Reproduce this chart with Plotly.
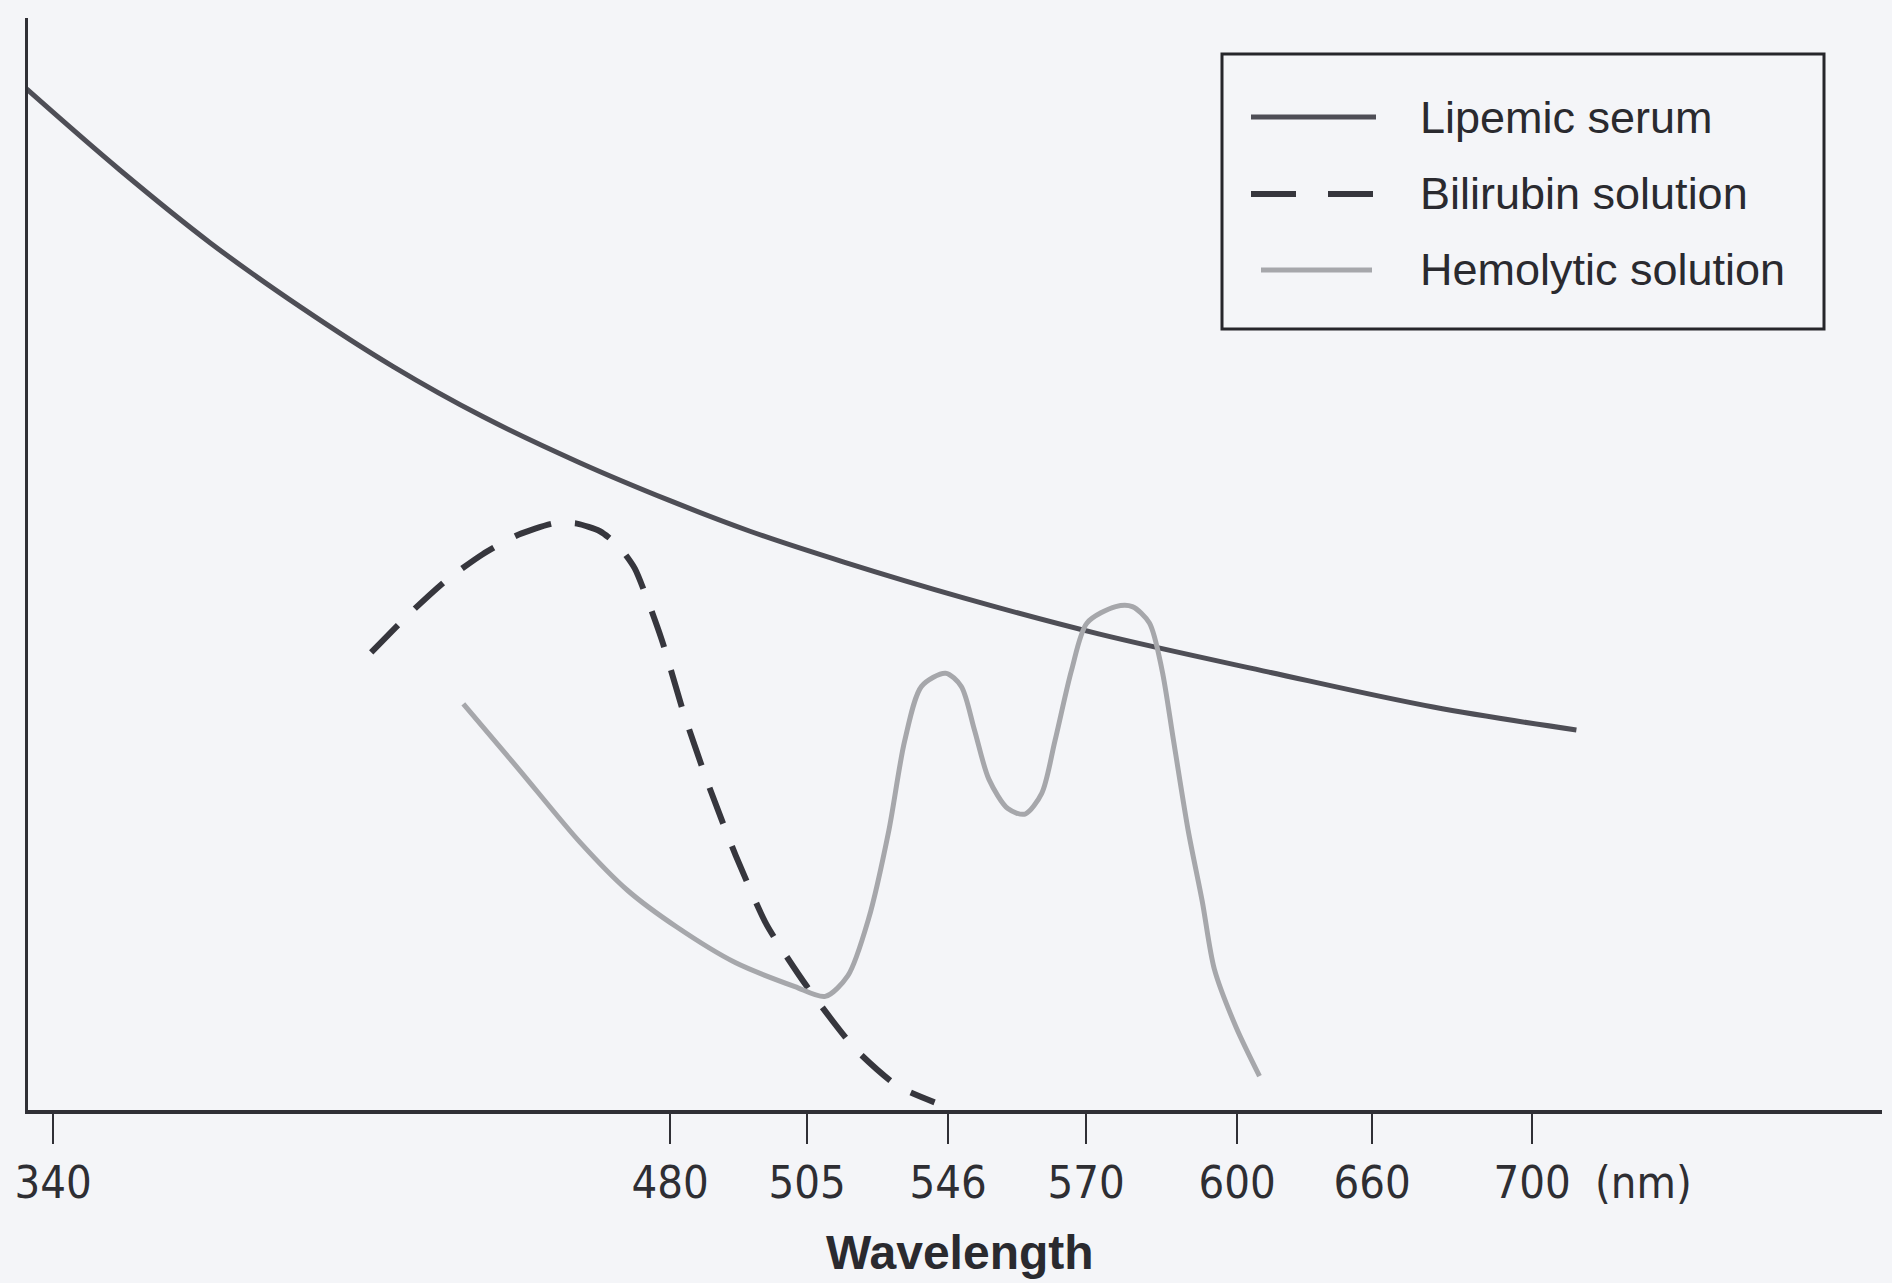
import numpy as np
import plotly.graph_objects as go

W, H = 1892, 1283
ML, MR, MT, MB = 28, 10, 18, 173          # plot-area margins (px)
X0, X1 = ML, W - MR                        # x-axis range in axis units (px along schematic axis)

# ---- schematic (non-linear) wavelength axis: labelled wavelengths and where they sit ----
TICK_WL = [340, 480, 505, 546, 570, 600, 660, 700]
TICK_LABELS = ["340", "480", "505", "546", "570", "600", "660", "700"]
TICK_POS = [53, 670, 807, 948, 1086, 1237, 1372, 1532]

SERIES_NAMES = ["Lipemic serum", "Bilirubin solution", "Hemolytic solution"]

# ---- data (wavelength nm, relative absorbance 0-100) ----
LIPEMIC_WL = [334.0, 355.1, 375.7, 396.3, 417.1, 437.5, 459.4, 480.0, 494.6, 515.5, 548.7,
              572.5, 614.2, 675.3, 711.1]
LIPEMIC_ABS = [93.5, 86.1, 79.4, 73.5, 68.1, 63.5, 59.3, 55.8, 53.0, 50.2, 46.9,
               43.6, 40.1, 36.9, 34.8]

BILI_WL = [412.2, 421.0, 429.2, 437.5, 445.7, 453.4, 458.9, 464.1, 468.2, 472.0, 478.1, 482.4,
           487.0, 492.0, 497.6, 505.0, 519.0, 531.3, 542.1]
BILI_ABS = [41.9, 45.5, 48.5, 50.9, 52.7, 53.7, 53.7, 53.0, 51.7, 49.6, 43.1, 36.5,
            29.8, 23.3, 17.0, 11.3, 5.6, 2.2, 0.7]

HEMO_WL = [433.1, 445.7, 459.4, 470.4, 481.1, 491.9, 502.8, 510.3, 516.9, 522.9, 528.8, 533.4,
           538.3, 545.3, 548.3, 550.6, 553.1, 556.4, 559.4, 562.3, 564.6, 567.5, 570.2, 575.9,
           579.2, 582.6, 585.1, 587.4, 590.3, 593.1, 595.5, 599.8, 610.0]
HEMO_ABS = [37.2, 31.2, 24.6, 20.1, 16.8, 13.5, 11.3, 10.4, 12.3, 17.5, 25.6, 33.8,
            38.8, 40.0, 38.8, 34.8, 30.3, 27.6, 27.1, 29.0, 33.8, 40.3, 44.6, 46.1,
            46.1, 44.6, 40.3, 33.8, 25.6, 19.1, 12.9, 7.6, 3.1]


def wl_to_x(wl):
    """Piecewise-linear schematic axis scale with linear extrapolation at both ends."""
    wl = np.asarray(wl, dtype=float)
    tw = np.asarray(TICK_WL, dtype=float)
    tp = np.asarray(TICK_POS, dtype=float)
    x = np.interp(wl, tw, tp)
    lo = wl < tw[0]
    hi = wl > tw[-1]
    x[lo] = tp[0] + (wl[lo] - tw[0]) * (tp[1] - tp[0]) / (tw[1] - tw[0])
    x[hi] = tp[-1] + (wl[hi] - tw[-1]) * (tp[-1] - tp[-2]) / (tw[-1] - tw[-2])
    return x


BG = "#f4f5f8"
C_LIP = "#4e4e56"
C_BIL = "#36363d"
C_HEM = "#a6a7ab"
STYLES = [
    dict(color=C_LIP, width=5, dash="solid", shape="spline", smoothing=1.0),
    dict(color=C_BIL, width=6, dash="38px,24px", shape="spline", smoothing=0.6),
    dict(color=C_HEM, width=5, dash="solid", shape="spline", smoothing=0.8),
]
DATA = [(LIPEMIC_WL, LIPEMIC_ABS), (BILI_WL, BILI_ABS), (HEMO_WL, HEMO_ABS)]

fig = go.Figure()
for name, (wl, ab), st in zip(SERIES_NAMES, DATA, STYLES):
    fig.add_trace(go.Scatter(x=wl_to_x(wl), y=ab, mode="lines", name=name,
                             line=st, showlegend=False, hoverinfo="skip"))

PW = W - ML - MR
PH = H - MT - MB


def px(xp):
    return (xp - ML) / PW


def py(yp):
    return (H - MB - yp) / PH


TICK_FONT = dict(family="Liberation Sans Narrow, DejaVu Sans Condensed, Arial Narrow, sans-serif",
                 size=45, color="#2e2e33")

shapes = []
annotations = []

# manual legend (box + samples + labels)
LEG_X0, LEG_X1, LEG_Y0, LEG_Y1 = 1222, 1824, 54, 329
shapes.append(dict(type="rect", xref="paper", yref="paper",
                   x0=px(LEG_X0), x1=px(LEG_X1), y0=py(LEG_Y1), y1=py(LEG_Y0),
                   line=dict(color="#26262b", width=3), fillcolor="rgba(0,0,0,0)", layer="above"))
ROW_Y = [117, 194, 270]
SAMPLE_X = [(1251, 1376), (1251, 1376), (1261, 1372)]
for name, st, ry, (sx0, sx1) in zip(SERIES_NAMES, STYLES, ROW_Y, SAMPLE_X):
    shapes.append(dict(type="line", xref="paper", yref="paper",
                       x0=px(sx0), x1=px(sx1), y0=py(ry), y1=py(ry),
                       line=dict(color=st["color"], width=st["width"],
                                 dash="45px,32px" if "px" in st["dash"] else "solid")))
    annotations.append(dict(text=name, xref="paper", yref="paper", x=px(1418), y=py(ry),
                            xanchor="left", yanchor="middle", showarrow=False,
                            font=dict(family="Liberation Sans, Arial, sans-serif", size=45, color="#2a2a2f")))

# units and axis title
annotations.append(dict(text="(nm)", xref="paper", yref="paper", x=px(1643), y=py(1182),
                        xanchor="center", yanchor="middle", showarrow=False, font=TICK_FONT))
annotations.append(dict(text="<b>Wavelength</b>", xref="paper", yref="paper", x=px(960), y=py(1252),
                        xanchor="center", yanchor="middle", showarrow=False,
                        font=dict(family="Liberation Sans, Arial, sans-serif", size=48, color="#2a2a2f")))

fig.update_layout(
    width=W, height=H,
    margin=dict(l=ML, r=MR, t=MT, b=MB, pad=0),
    paper_bgcolor=BG, plot_bgcolor=BG,
    showlegend=False,
    shapes=shapes, annotations=annotations,
    xaxis=dict(range=[X0, X1], showgrid=False, zeroline=False,
               showline=True, linecolor="#303036", linewidth=4,
               tickmode="array", tickvals=TICK_POS, ticktext=TICK_LABELS,
               ticks="outside", ticklen=30, tickwidth=2, tickcolor="#303036",
               tickfont=TICK_FONT, ticklabelstandoff=0),
    yaxis=dict(range=[0, 100], showgrid=False, zeroline=False,
               showline=True, linecolor="#303036", linewidth=3,
               showticklabels=False, ticks=""),
)

fig.write_html("out.html",
               config={"displayModeBar": False},
               post_script="document.body.style.margin='0';document.body.style.background='%s';" % BG)
